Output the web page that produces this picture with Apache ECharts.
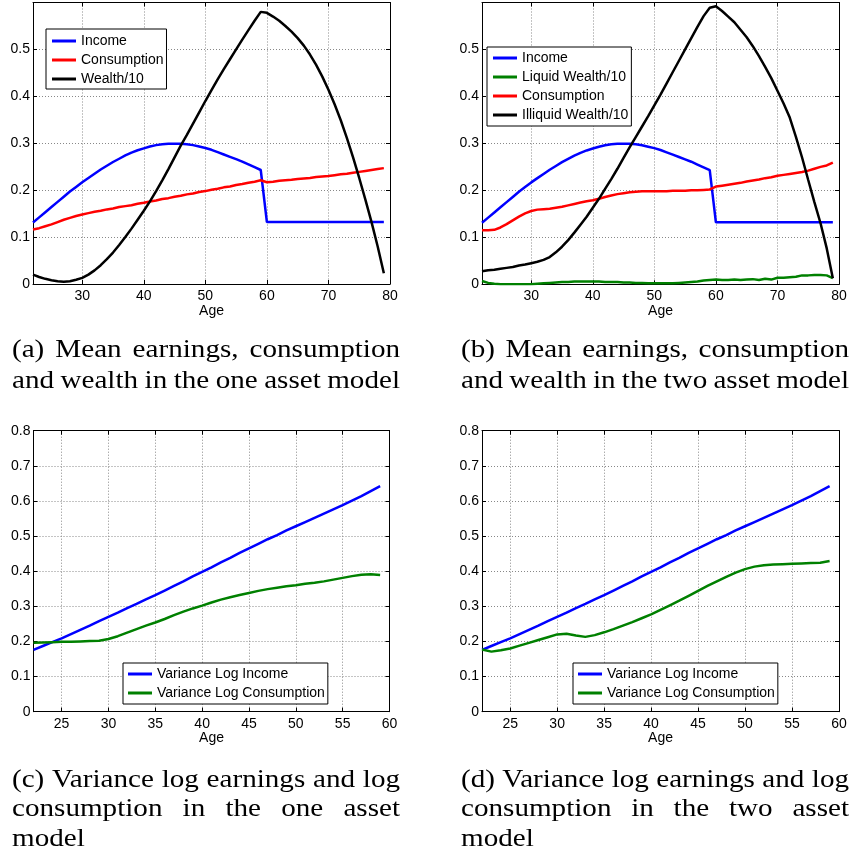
<!DOCTYPE html>
<html><head><meta charset="utf-8">
<script src="https://cdn.jsdelivr.net/npm/echarts@6/dist/echarts.min.js"></script>
<style>html,body{margin:0;padding:0;background:#fff}#c{width:851px;height:856px}</style>
</head><body><div id="c"></div>
<script>
// ---------- DATA ----------
const agesLife = [22,23,24,25,26,27,28,29,30,31,32,33,34,35,36,37,38,39,40,41,42,43,44,45,46,47,48,49,50,51,52,53,54,55,56,57,58,59,60,61,62,63,64,65,66,67,68,69,70,71,72,73,74,75,76,77,78,79];
const agesWork = [22,23,24,25,26,27,28,29,30,31,32,33,34,35,36,37,38,39,40,41,42,43,44,45,46,47,48,49,50,51,52,53,54,55,56,57,58,59];

// (a) one asset model
const incomeA = [0.131,0.142,0.153,0.164,0.175,0.186,0.197,0.207,0.217,0.226,0.235,0.244,0.252,0.260,0.267,0.274,0.280,0.285,0.289,0.293,0.296,0.298,0.299,0.299,0.299,0.298,0.296,0.293,0.290,0.286,0.281,0.276,0.271,0.266,0.261,0.255,0.249,0.243,0.132,0.132,0.132,0.132,0.132,0.132,0.132,0.132,0.132,0.132,0.132,0.132,0.132,0.132,0.132,0.132,0.132,0.132,0.132,0.132];
const consA = [0.116,0.119,0.123,0.127,0.132,0.137,0.141,0.145,0.148,0.151,0.154,0.156,0.159,0.161,0.164,0.166,0.168,0.171,0.173,0.176,0.178,0.181,0.183,0.186,0.188,0.191,0.193,0.196,0.198,0.201,0.203,0.206,0.208,0.211,0.213,0.216,0.218,0.221,0.217,0.218,0.220,0.221,0.222,0.224,0.225,0.226,0.228,0.229,0.230,0.232,0.234,0.235,0.237,0.239,0.241,0.243,0.245,0.247];
const wealthA = [0.020,0.015,0.011,0.008,0.006,0.005,0.006,0.009,0.013,0.020,0.029,0.040,0.053,0.067,0.083,0.100,0.118,0.137,0.156,0.176,0.198,0.221,0.245,0.270,0.295,0.318,0.342,0.366,0.390,0.413,0.436,0.458,0.479,0.500,0.521,0.541,0.561,0.580,0.578,0.570,0.561,0.550,0.538,0.524,0.508,0.489,0.467,0.442,0.414,0.383,0.349,0.311,0.270,0.226,0.180,0.132,0.080,0.023];

// (b) two asset model
const incomeB = [0.131,0.142,0.153,0.164,0.175,0.186,0.197,0.207,0.217,0.226,0.235,0.244,0.252,0.260,0.267,0.274,0.280,0.285,0.289,0.293,0.296,0.298,0.299,0.299,0.299,0.298,0.296,0.293,0.290,0.286,0.281,0.276,0.271,0.266,0.261,0.255,0.249,0.243,0.132,0.132,0.132,0.132,0.132,0.132,0.132,0.132,0.132,0.132,0.132,0.132,0.132,0.132,0.132,0.132,0.132,0.132,0.132,0.132];
const liquidB = [0.007,0.003,0.001,0.000,0.000,0.000,0.000,0.000,0.000,0.001,0.002,0.003,0.004,0.005,0.005,0.006,0.006,0.006,0.006,0.006,0.005,0.005,0.005,0.004,0.004,0.003,0.003,0.002,0.002,0.002,0.002,0.002,0.003,0.004,0.005,0.006,0.008,0.009,0.010,0.009,0.009,0.010,0.009,0.010,0.011,0.009,0.012,0.010,0.014,0.014,0.015,0.016,0.019,0.019,0.020,0.020,0.019,0.013];
const consB = [0.115,0.115,0.116,0.121,0.128,0.136,0.144,0.151,0.156,0.159,0.160,0.161,0.163,0.165,0.168,0.171,0.174,0.177,0.179,0.182,0.186,0.189,0.192,0.194,0.196,0.197,0.198,0.198,0.198,0.198,0.198,0.199,0.199,0.199,0.200,0.200,0.201,0.202,0.208,0.210,0.212,0.214,0.216,0.219,0.221,0.223,0.226,0.228,0.231,0.233,0.235,0.237,0.239,0.242,0.246,0.250,0.253,0.259];
const illiquidB = [0.028,0.030,0.031,0.033,0.035,0.037,0.040,0.042,0.045,0.048,0.052,0.058,0.068,0.080,0.094,0.110,0.127,0.144,0.163,0.182,0.203,0.224,0.246,0.269,0.292,0.314,0.336,0.358,0.381,0.404,0.428,0.452,0.476,0.500,0.524,0.548,0.571,0.589,0.592,0.582,0.570,0.558,0.542,0.526,0.507,0.486,0.463,0.439,0.412,0.385,0.355,0.314,0.270,0.222,0.175,0.130,0.077,0.013];

// (c) variance, one asset
const varIncC = [0.176,0.187,0.198,0.209,0.221,0.233,0.245,0.258,0.270,0.282,0.295,0.307,0.320,0.332,0.345,0.358,0.371,0.385,0.398,0.411,0.425,0.438,0.452,0.465,0.478,0.491,0.503,0.516,0.528,0.540,0.552,0.564,0.576,0.588,0.601,0.614,0.628,0.642];
const varConsC = [0.196,0.197,0.198,0.199,0.199,0.200,0.201,0.202,0.207,0.215,0.225,0.235,0.245,0.254,0.264,0.275,0.285,0.294,0.302,0.311,0.319,0.326,0.332,0.338,0.344,0.349,0.353,0.357,0.360,0.364,0.367,0.371,0.376,0.381,0.386,0.390,0.391,0.389];

// (d) variance, two asset
const varIncD = [0.176,0.187,0.198,0.209,0.221,0.233,0.245,0.258,0.270,0.282,0.295,0.307,0.320,0.332,0.345,0.358,0.371,0.385,0.398,0.411,0.425,0.438,0.452,0.465,0.478,0.491,0.503,0.516,0.528,0.540,0.552,0.564,0.576,0.588,0.601,0.614,0.628,0.642];
const varConsD = [0.177,0.171,0.175,0.180,0.188,0.196,0.204,0.212,0.220,0.222,0.217,0.213,0.218,0.226,0.235,0.245,0.255,0.266,0.277,0.290,0.303,0.316,0.330,0.344,0.358,0.371,0.384,0.396,0.406,0.413,0.417,0.419,0.420,0.421,0.422,0.423,0.424,0.429];

const captionA = ["(a) Mean earnings, consumption", "and wealth in the one asset model"];
const captionB = ["(b) Mean earnings, consumption", "and wealth in the two asset model"];
const captionC = ["(c) Variance log earnings and log", "consumption in the one asset", "model"];
const captionD = ["(d) Variance log earnings and log", "consumption in the two asset", "model"];

// ---------- CHART ----------
const SANS = '"Liberation Sans", Arial, sans-serif';
const BLUE = '#0000ff', RED = '#ff0000', BLACK = '#000000', GREEN = '#008000';

const grids = [
  {left: 33, top: 2.5, width: 357, height: 281.5},
  {left: 482, top: 2.5, width: 357, height: 281.8},
  {left: 33.5, top: 430.7, width: 356, height: 281},
  {left: 482, top: 430.7, width: 357, height: 281}
];
const xRanges = [[22,80,5],[22,80,5],[22,60,8],[22,60,8]];
const yRanges = [[0,0.6,false],[0,0.6,false],[0,0.8,true],[0,0.8,true]];

const xAxis = [], yAxis = [];
grids.forEach((g, i) => {
  const [xmin, xmax, sn] = xRanges[i];
  xAxis.push({
    gridIndex: i, type: 'value', min: xmin, max: xmax, splitNumber: sn, position: 'bottom',
    name: 'Age', nameLocation: 'middle', nameGap: 17,
    nameTextStyle: {fontFamily: SANS, fontSize: 14, color: '#000'},
    axisLine: {show: true, onZero: false, lineStyle: {color: '#000', width: 1}},
    axisTick: {show: true, inside: true, length: 4, lineStyle: {color: '#000'}},
    axisLabel: {show: true, margin: 5, fontFamily: SANS, fontSize: 14, color: '#000',
      formatter: v => (Math.abs(v % 5) < 1e-9 ? String(v) : '')},
    splitLine: {show: true, lineStyle: {color: '#888', type: [1, 2], width: 1}}
  });
  xAxis.push({
    gridIndex: i, type: 'value', min: xmin, max: xmax, splitNumber: sn, position: 'top',
    axisLine: {show: true, onZero: false, lineStyle: {color: '#000', width: 1}},
    axisTick: {show: true, inside: true, length: 4, lineStyle: {color: '#000'}},
    axisLabel: {show: false}, splitLine: {show: false}
  });
  const [ymin, ymax, showMax] = yRanges[i];
  yAxis.push({
    gridIndex: i, type: 'value', min: ymin, max: ymax, interval: 0.1, position: 'left',
    axisLine: {show: true, onZero: false, lineStyle: {color: '#000', width: 1}},
    axisTick: {show: true, inside: true, length: 4, lineStyle: {color: '#000'}},
    axisLabel: {show: true, margin: 3, fontFamily: SANS, fontSize: 14, color: '#000', showMaxLabel: showMax,
      formatter: v => (v === 0 ? '0' : v.toFixed(1))},
    splitLine: {show: true, lineStyle: {color: '#888', type: [1, 2], width: 1}}
  });
  yAxis.push({
    gridIndex: i, type: 'value', min: ymin, max: ymax, interval: 0.1, position: 'right',
    axisLine: {show: true, onZero: false, lineStyle: {color: '#000', width: 1}},
    axisTick: {show: true, inside: true, length: 4, lineStyle: {color: '#000'}},
    axisLabel: {show: false}, splitLine: {show: false}
  });
});

function pairs(xs, ys) { return xs.map((x, k) => [x, ys[k]]); }
function line(name, gi, xs, ys, color) {
  return {
    name, type: 'line', xAxisIndex: gi * 2, yAxisIndex: gi * 2, data: pairs(xs, ys),
    showSymbol: false, symbol: 'none', smooth: false, animation: false,
    lineStyle: {color, width: 2.5}, itemStyle: {color}, clip: true
  };
}

const series = [
  line('Income', 0, agesLife, incomeA, BLUE),
  line('Consumption', 0, agesLife, consA, RED),
  line('Wealth/10', 0, agesLife, wealthA, BLACK),
  line('Income', 1, agesLife, incomeB, BLUE),
  line('Liquid Wealth/10', 1, agesLife, liquidB, GREEN),
  line('Consumption', 1, agesLife, consB, RED),
  line('Illiquid Wealth/10', 1, agesLife, illiquidB, BLACK),
  line('Variance Log Income', 2, agesWork, varIncC, BLUE),
  line('Variance Log Consumption', 2, agesWork, varConsC, GREEN),
  line('Variance Log Income', 3, agesWork, varIncD, BLUE),
  line('Variance Log Consumption', 3, agesWork, varConsD, GREEN)
];

function legend(names, left, top, padding) {
  return {
    data: names.map(n => ({name: n})), left, top, orient: 'vertical', padding,
    icon: 'rect', itemWidth: 24, itemHeight: 3, itemGap: 5,
    backgroundColor: '#fff', borderColor: '#000', borderWidth: 1, borderRadius: 0,
    selectedMode: false,
    textStyle: {fontFamily: SANS, fontSize: 14, color: '#000', lineHeight: 14}
  };
}
const legends = [
  legend(['Income', 'Consumption', 'Wealth/10'], 46, 29, [5, 3, 3, 6]),
  legend(['Income', 'Liquid Wealth/10', 'Consumption', 'Illiquid Wealth/10'], 487, 47, [4, 3, 4, 6]),
  legend(['Variance Log Income', 'Variance Log Consumption'], 123, 663, [4, 3, 4, 5]),
  legend(['Variance Log Income', 'Variance Log Consumption'], 573, 663, [4, 3, 4, 5])
];

// captions, justified like the LaTeX source
const CAP_SIZE = 26, CAP_SX = 1.12;
const CAP_FONT = CAP_SIZE + 'px "Liberation Serif", "Times New Roman", serif';
const mctx = document.createElement('canvas').getContext('2d');
mctx.font = CAP_FONT;
function caption(lines, x0, x1, ys) {
  const els = [];
  lines.forEach((ln, i) => {
    const words = ln.split(' ');
    const ws = words.map(w => mctx.measureText(w).width * CAP_SX);
    const total = ws.reduce((a, b) => a + b, 0);
    const gap = words.length > 1 ? (x1 - x0 - total) / (words.length - 1) : 0;
    let x = x0;
    words.forEach((w, k) => {
      els.push({type: 'text', x: x, y: ys[i], scaleX: CAP_SX, silent: true,
        style: {text: w, font: CAP_FONT, fill: '#000', align: 'left', verticalAlign: 'middle'}});
      x += ws[k] + gap;
    });
  });
  return els;
}
const graphic = [].concat(
  caption(captionA, 12, 400, [350, 381]),
  caption(captionB, 461, 849, [350, 381]),
  caption(captionC, 12, 400, [780, 809.5, 839]),
  caption(captionD, 461, 849, [780, 809.5, 839])
);

const chart = echarts.init(document.getElementById('c'), null, {renderer: 'canvas'});
chart.setOption({
  animation: false,
  backgroundColor: '#fff',
  grid: grids.map(g => Object.assign({containLabel: false}, g)),
  xAxis, yAxis, series, legend: legends, graphic
});
</script></body></html>
